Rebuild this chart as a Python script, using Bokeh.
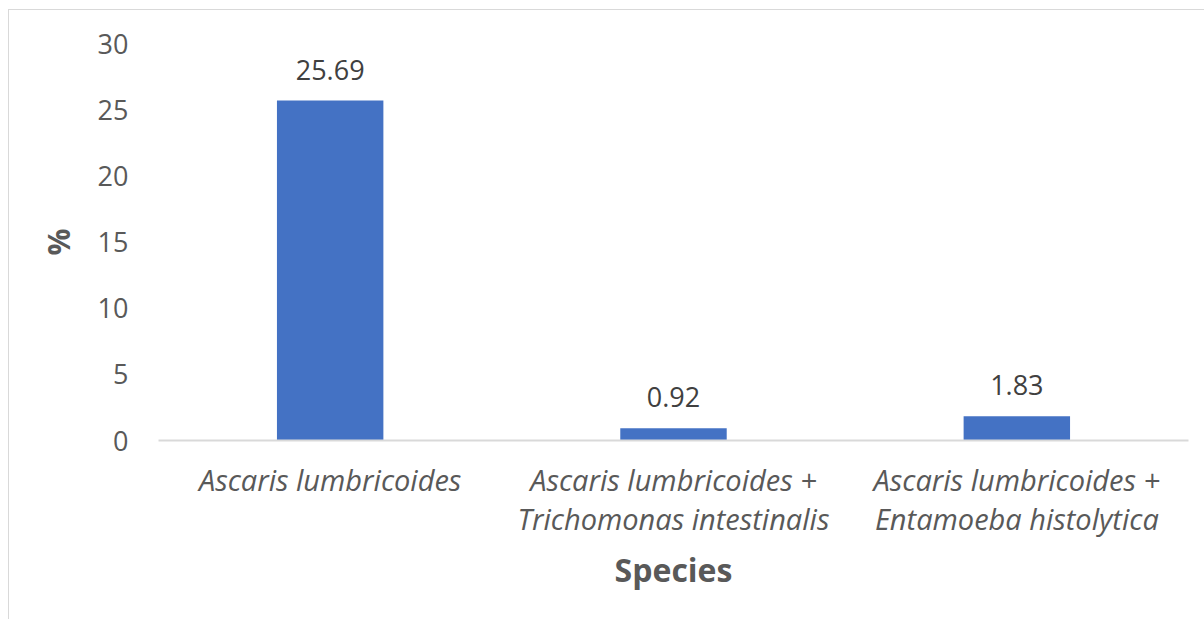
from bokeh.plotting import figure
from bokeh.models import ColumnDataSource, LabelSet, FactorRange, FixedTicker
from bokeh.core.properties import value
from bokeh.embed import file_html
from bokeh.resources import INLINE

categories = ["Ascaris lumbricoides",
              "Ascaris lumbricoides +\nTrichomonas intestinalis",
              "Ascaris lumbricoides +\nEntamoeba histolytica"]
values = [25.69, 0.92, 1.83]
value_labels = ["25.69", "0.92", "1.83"]
y_ticks = [0, 5, 10, 15, 20, 25, 30]

FONT = "Open Sans"

src = ColumnDataSource(dict(cat=categories, val=values, lab=value_labels))

p = figure(width=1196, height=610, output_backend="svg", toolbar_location=None,
           x_range=FactorRange(*categories, range_padding=0), y_range=(0, 30),
           min_border_left=149, min_border_right=17, min_border_top=33, min_border_bottom=180)
p.styles = {"margin-left": "8px", "margin-top": "9px",
            "border-left": "1px solid #d9d9d9", "border-top": "1px solid #d9d9d9"}
p.outline_line_color = None
p.background_fill_color = "white"
p.border_fill_color = "white"

p.vbar(x="cat", top="val", width=0.31, source=src, fill_color="#4472c4", line_color=None)

labels = LabelSet(x="cat", y="val", text="lab", source=src, text_align="center",
                  text_baseline="bottom", y_offset=21, text_font=value(FONT),
                  text_font_size="27px", text_color="#404040")
p.add_layout(labels)

p.xgrid.grid_line_color = None
p.ygrid.grid_line_color = None

# y axis
p.yaxis.ticker = FixedTicker(ticks=y_ticks)
p.yaxis.axis_line_color = None
p.yaxis.major_tick_line_color = None
p.yaxis.minor_tick_line_color = None
p.yaxis.major_tick_out = 0
p.yaxis.major_label_standoff = 30
p.yaxis.major_label_text_font = FONT
p.yaxis.major_label_text_font_size = "27px"
p.yaxis.major_label_text_color = "#595959"
p.yaxis.axis_label = "%"
p.yaxis.axis_label_text_font = FONT
p.yaxis.axis_label_text_font_size = "30px"
p.yaxis.axis_label_text_font_style = "bold"
p.yaxis.axis_label_text_color = "#595959"
p.yaxis.axis_label_standoff = 16

# x axis
p.xaxis.axis_line_color = "#d9d9d9"
p.xaxis.axis_line_width = 2
p.xaxis.major_tick_line_color = None
p.xaxis.minor_tick_line_color = None
p.xaxis.major_tick_out = 0
p.xaxis.major_label_standoff = 19
p.xaxis.major_label_text_font = FONT
p.xaxis.major_label_text_font_size = "29px"
p.xaxis.major_label_text_font_style = "italic"
p.xaxis.major_label_text_color = "#595959"
p.xaxis.major_label_text_line_height = 1.02
p.xaxis.axis_label = "Species"
p.xaxis.axis_label_text_font = FONT
p.xaxis.axis_label_text_font_size = "32px"
p.xaxis.axis_label_text_font_style = "bold"
p.xaxis.axis_label_text_color = "#595959"
p.xaxis.axis_label_standoff = 7

open("out.html", "w").write(file_html(p, INLINE))
